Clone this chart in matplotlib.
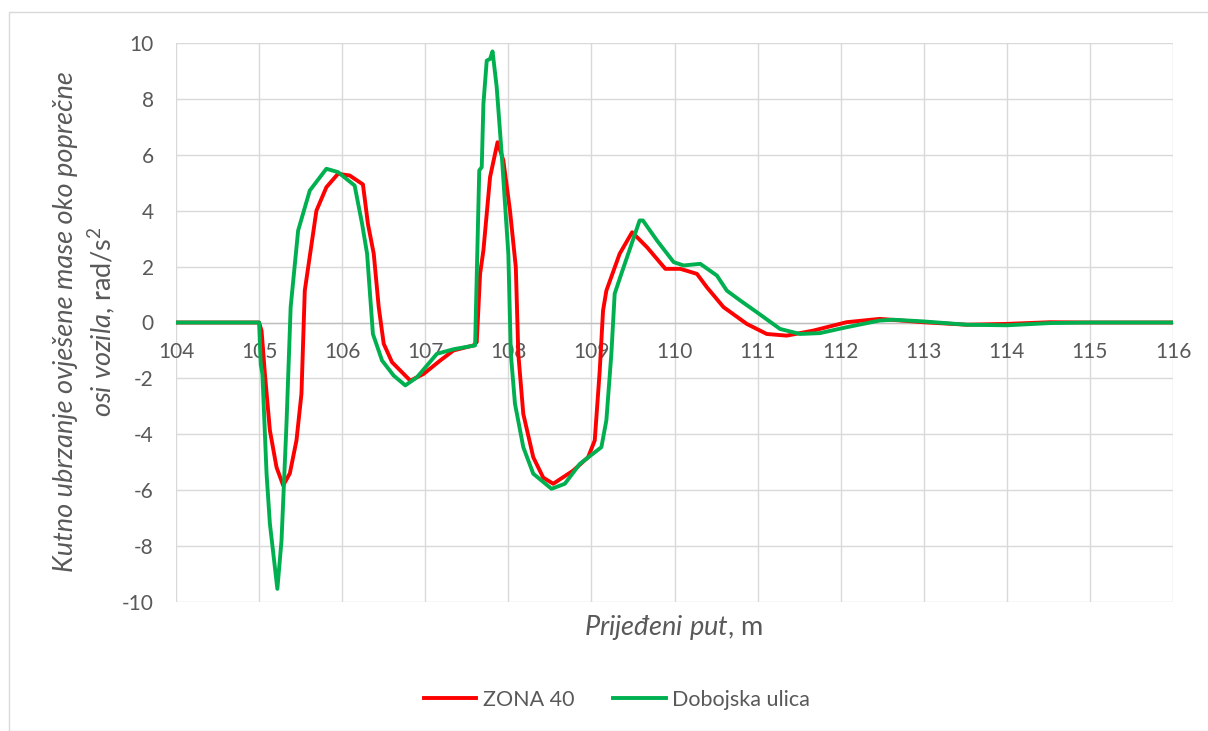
import matplotlib
matplotlib.use("Agg")
import matplotlib.pyplot as plt
from matplotlib.patches import Rectangle

# ---- data ----
zona_x = [104, 105, 105.03, 105.07, 105.13, 105.21, 105.29, 105.37, 105.45, 105.51, 105.55, 105.69,
          105.81, 105.95, 106.09, 106.25,
          106.31, 106.38, 106.44, 106.5, 106.6, 106.82, 106.98, 107.18, 107.34, 107.58, 107.62,
          107.66, 107.7, 107.78, 107.87, 107.94, 108.02, 108.09, 108.12, 108.18, 108.30, 108.42,
          108.54, 108.78, 108.96, 109.04, 109.1, 109.14, 109.18, 109.34, 109.49, 109.67, 109.89,
          110.07, 110.27, 110.39, 110.59, 110.87, 111.11, 111.35, 111.67, 112.07, 112.47, 112.99,
          113.52, 114.0, 114.52, 115.0, 116]
zona_y = [0, 0, -0.3, -1.84, -3.86, -5.18, -5.83, -5.4, -4.22, -2.55, 1.14, 4.0,
          4.84, 5.32, 5.26, 4.94,
          3.53, 2.46, 0.55, -0.76, -1.42, -2.08, -1.84, -1.36, -1.0, -0.82, -0.7,
          1.74, 2.58, 5.2, 6.45, 5.8, 4.0, 1.98, -1.12, -3.27, -4.82, -5.55,
          -5.77, -5.3, -4.82, -4.22, -1.72, 0.43, 1.14, 2.46, 3.23, 2.69, 1.92,
          1.92, 1.74, 1.26, 0.55, -0.05, -0.41, -0.47, -0.29, 0.01, 0.13, 0.01,
          -0.08, -0.05, 0.01, 0.0, 0]

dob_x = [104, 105, 105.02, 105.04, 105.09, 105.13, 105.22, 105.27, 105.33, 105.38, 105.47, 105.61,
         105.81, 105.95, 106.15, 106.24, 106.3, 106.37, 106.48, 106.62, 106.76, 106.9, 107.14,
         107.35, 107.6, 107.65, 107.68, 107.7, 107.74, 107.78, 107.81, 107.86, 107.92, 108.0,
         108.03, 108.08, 108.18, 108.30, 108.52, 108.68, 108.86, 109.12, 109.18, 109.24, 109.28,
         109.36, 109.58, 109.62, 109.79, 109.99, 110.11, 110.31, 110.51, 110.63, 110.79, 110.99,
         111.27, 111.51, 111.75, 112.07, 112.47, 112.63, 112.99, 113.52, 114.0, 114.52, 115.0, 116]
dob_y = [0, 0, -1.5, -1.84, -5.41, -7.2, -9.53, -7.8, -3.62, 0.55, 3.29, 4.72,
         5.5, 5.38, 4.9, 3.53, 2.46, -0.41, -1.36, -1.9, -2.25, -1.96, -1.12,
         -0.95, -0.82, 5.44, 5.56, 7.82, 9.37, 9.43, 9.7, 8.42, 6.03, 2.46,
         -1.12, -2.91, -4.46, -5.41, -5.95, -5.77, -5.06, -4.46, -3.5, -1.12, 1.03,
         1.74, 3.65, 3.65, 2.93, 2.16, 2.04, 2.1, 1.68, 1.14, 0.79, 0.37,
         -0.23, -0.41, -0.38, -0.17, 0.07, 0.1, 0.04, -0.08, -0.1, -0.02, 0, 0]

x_ticks = list(range(104, 117))
y_ticks = list(range(-10, 11, 2))
series_names = ["ZONA 40", "Dobojska ulica"]

# ---- style ----
FONT = "Lato"
plt.rcParams['font.family'] = [FONT, 'DejaVu Sans']
plt.rcParams['mathtext.fontset'] = 'custom'
plt.rcParams['mathtext.rm'] = FONT
plt.rcParams['mathtext.it'] = FONT + ':italic'
plt.rcParams['axes.unicode_minus'] = False
TXT = '#595959'
GRID = '#D9D9D9'

fig = plt.figure(figsize=(12.08, 7.31), dpi=100)
fig.patches.append(Rectangle((9 / 1208, 0), 1 - 9 / 1208 + 0.01, 1 - 12 / 731, transform=fig.transFigure,
                             fill=False, edgecolor=GRID, linewidth=1.0))
ax = fig.add_axes([176 / 1208, 1 - 602 / 731, (1173 - 176) / 1208, (602 - 43) / 731])

ax.plot(zona_x, zona_y, color='#FF0000', lw=2.8, label=series_names[0], zorder=3,
        solid_joinstyle='round')
ax.plot(dob_x, dob_y, color='#00B050', lw=2.8, label=series_names[1], zorder=4,
        solid_joinstyle='round')

ax.set_xlim(104, 116)
ax.set_ylim(-10, 10)
ax.set_xticks(x_ticks)
ax.set_yticks(y_ticks)
ax.grid(True, color=GRID, lw=1.0, zorder=0)
ax.set_axisbelow(True)
for s in ['top', 'right', 'left']:
    ax.spines[s].set_visible(False)
ax.spines['bottom'].set_position(('data', 0))
ax.spines['bottom'].set_color('#BFBFBF')
ax.spines['bottom'].set_linewidth(1.0)
ax.tick_params(axis='both', length=0, labelsize=15, labelcolor=TXT)
ax.tick_params(axis='x', pad=14)
ax.tick_params(axis='y', pad=16)

# axis titles
fig.text(673 / 1208, 1 - 628 / 731, r"$\mathit{Prijeđeni\ put}$, m", ha='center', va='center',
         fontsize=19.5, color=TXT)
fig.text(66 / 1208, 1 - 322 / 731, "Kutno ubrzanje ovješene mase oko poprečne", rotation=90,
         ha='center', va='center', fontsize=19.5, color=TXT, style='italic')
fig.text(102 / 1208, 1 - 322 / 731, r"$\mathit{osi\ vozila}$, rad/s$^{2}$", rotation=90,
         ha='center', va='center', fontsize=19.5, color=TXT)

leg = fig.legend(loc='center', bbox_to_anchor=(617 / 1208, 1 - 700 / 731), ncol=2, frameon=False,
                 fontsize=15.5, handlelength=2.45, columnspacing=1.8, handletextpad=0.3)
for t in leg.get_texts():
    t.set_color(TXT)

fig.savefig("out.png", dpi=100)
